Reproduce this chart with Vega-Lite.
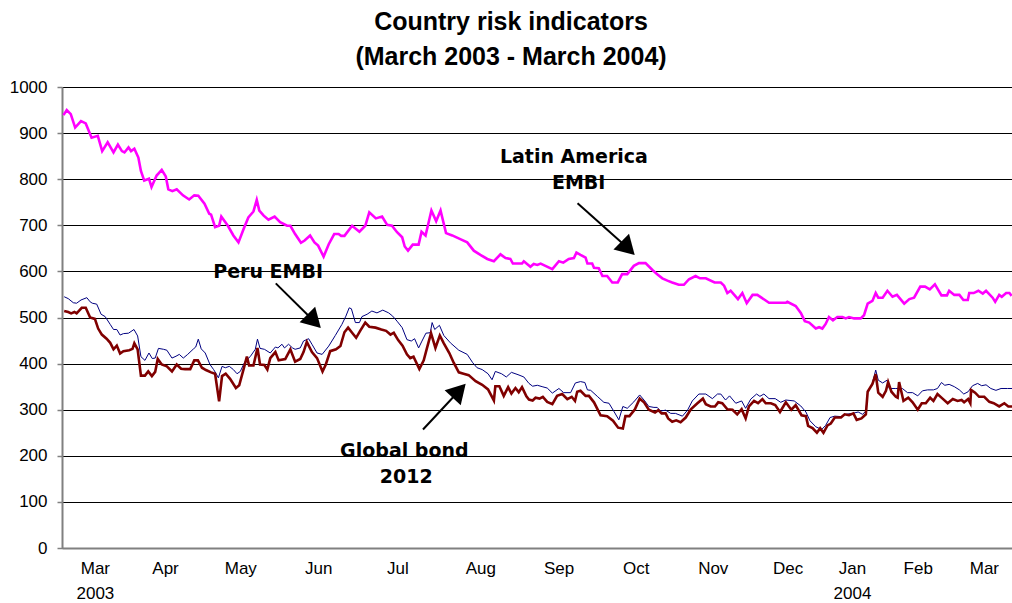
{
"$schema":"https://vega.github.io/schema/vega-lite/v6.json",
"width":950,"height":461,
"autosize":{"type":"none"},
"padding":{"left":62,"top":87,"right":0,"bottom":55},
"background":"white",
"title":{"text":["Country risk indicators","(March 2003 - March 2004)"],"font":"Liberation Sans, Arial, sans-serif","fontSize":25,"fontWeight":"bold","lineHeight":35,"anchor":"middle","dx":-26,"offset":8,"color":"black"},
"config":{"view":{"stroke":null},
"axis":{"labelFont":"Liberation Sans Narrow, Liberation Sans, Arial, sans-serif","labelFontSize":17,"labelColor":"black","title":null,"domainColor":"#808080","domainWidth":2}},
"datasets":{
"latam":[{"day":0.4,"bp":939},{"day":1.3,"bp":950},{"day":2.4,"bp":941},{"day":3.6,"bp":912},{"day":5.2,"bp":926},{"day":6.5,"bp":921},{"day":8.1,"bp":890},{"day":9.8,"bp":894},{"day":11.0,"bp":861},{"day":12.5,"bp":880},{"day":14.1,"bp":858},{"day":15.3,"bp":875},{"day":16.4,"bp":861},{"day":17.1,"bp":858},{"day":18.2,"bp":869},{"day":18.9,"bp":861},{"day":19.8,"bp":866},{"day":20.9,"bp":847},{"day":21.6,"bp":818},{"day":22.5,"bp":797},{"day":23.8,"bp":801},{"day":24.5,"bp":783},{"day":25.9,"bp":808},{"day":27.3,"bp":820},{"day":28.4,"bp":806},{"day":29.1,"bp":778},{"day":30.2,"bp":774},{"day":31.4,"bp":778},{"day":33.1,"bp":765},{"day":34.8,"bp":756},{"day":36.2,"bp":765},{"day":37.3,"bp":764},{"day":39.0,"bp":747},{"day":40.3,"bp":725},{"day":40.8,"bp":723},{"day":41.9,"bp":696},{"day":43.0,"bp":699},{"day":43.6,"bp":719},{"day":45.4,"bp":699},{"day":46.9,"bp":678},{"day":48.3,"bp":663},{"day":49.7,"bp":692},{"day":51.0,"bp":717},{"day":52.4,"bp":730},{"day":53.3,"bp":755},{"day":54.0,"bp":732},{"day":55.2,"bp":721},{"day":56.5,"bp":712},{"day":58.2,"bp":719},{"day":59.7,"bp":707},{"day":61.6,"bp":699},{"day":62.5,"bp":699},{"day":63.8,"bp":681},{"day":65.4,"bp":662},{"day":66.4,"bp":667},{"day":67.9,"bp":678},{"day":69.1,"bp":663},{"day":70.1,"bp":656},{"day":71.6,"bp":632},{"day":73.0,"bp":659},{"day":74.5,"bp":681},{"day":75.7,"bp":681},{"day":76.4,"bp":677},{"day":77.3,"bp":677},{"day":79.4,"bp":699},{"day":81.4,"bp":686},{"day":83.0,"bp":699},{"day":84.1,"bp":728},{"day":85.9,"bp":715},{"day":87.6,"bp":719},{"day":89.0,"bp":701},{"day":90.3,"bp":699},{"day":91.7,"bp":685},{"day":93.1,"bp":674},{"day":93.8,"bp":654},{"day":94.7,"bp":645},{"day":96.0,"bp":658},{"day":97.6,"bp":658},{"day":98.4,"bp":686},{"day":99.5,"bp":678},{"day":101.1,"bp":732},{"day":102.4,"bp":709},{"day":103.6,"bp":732},{"day":105.1,"bp":683},{"day":106.8,"bp":678},{"day":109.0,"bp":670},{"day":110.9,"bp":663},{"day":112.7,"bp":645},{"day":114.5,"bp":636},{"day":116.4,"bp":627},{"day":118.2,"bp":622},{"day":120.0,"bp":637},{"day":121.4,"bp":629},{"day":122.7,"bp":627},{"day":123.4,"bp":617},{"day":125.9,"bp":617},{"day":126.4,"bp":622},{"day":128.2,"bp":610},{"day":129.1,"bp":616},{"day":130.1,"bp":614},{"day":131.0,"bp":617},{"day":132.3,"bp":612},{"day":134.2,"bp":605},{"day":136.0,"bp":622},{"day":137.2,"bp":619},{"day":138.7,"bp":627},{"day":140.1,"bp":629},{"day":140.8,"bp":641},{"day":141.9,"bp":636},{"day":143.3,"bp":630},{"day":143.8,"bp":617},{"day":145.1,"bp":617},{"day":145.6,"bp":608},{"day":146.9,"bp":607},{"day":147.9,"bp":590},{"day":149.2,"bp":590},{"day":150.6,"bp":576},{"day":152.1,"bp":576},{"day":153.3,"bp":594},{"day":154.7,"bp":594},{"day":156.5,"bp":612},{"day":157.9,"bp":618},{"day":159.7,"bp":618},{"day":161.6,"bp":603},{"day":162.9,"bp":594},{"day":164.3,"bp":585},{"day":165.7,"bp":580},{"day":167.0,"bp":576},{"day":168.8,"bp":571},{"day":170.2,"bp":571},{"day":171.6,"bp":583},{"day":173.4,"bp":590},{"day":174.6,"bp":585},{"day":176.2,"bp":585},{"day":178.6,"bp":576},{"day":180.3,"bp":576},{"day":181.2,"bp":569},{"day":182.1,"bp":553},{"day":183.0,"bp":558},{"day":185.0,"bp":540},{"day":186.2,"bp":553},{"day":187.4,"bp":531},{"day":189.0,"bp":549},{"day":190.3,"bp":549},{"day":193.5,"bp":532},{"day":198.1,"bp":532},{"day":198.5,"bp":534},{"day":200.8,"bp":525},{"day":202.2,"bp":510},{"day":203.3,"bp":492},{"day":204.5,"bp":489},{"day":206.3,"bp":476},{"day":207.2,"bp":479},{"day":208.1,"bp":476},{"day":209.0,"bp":486},{"day":209.9,"bp":501},{"day":211.0,"bp":494},{"day":212.2,"bp":501},{"day":213.6,"bp":501},{"day":214.5,"bp":498},{"day":215.4,"bp":501},{"day":216.8,"bp":498},{"day":218.6,"bp":498},{"day":219.5,"bp":505},{"day":220.5,"bp":530},{"day":221.8,"bp":536},{"day":222.7,"bp":553},{"day":223.4,"bp":543},{"day":224.6,"bp":543},{"day":225.9,"bp":558},{"day":227.3,"bp":545},{"day":228.5,"bp":549},{"day":230.5,"bp":530},{"day":231.9,"bp":540},{"day":233.2,"bp":543},{"day":234.9,"bp":567},{"day":236.2,"bp":567},{"day":237.5,"bp":561},{"day":238.9,"bp":572},{"day":240.7,"bp":548},{"day":242.2,"bp":548},{"day":242.8,"bp":558},{"day":244.2,"bp":549},{"day":245.6,"bp":549},{"day":246.7,"bp":538},{"day":247.9,"bp":538},{"day":248.3,"bp":553},{"day":249.5,"bp":553},{"day":250.8,"bp":558},{"day":252.0,"bp":552},{"day":252.9,"bp":558},{"day":254.7,"bp":543},{"day":255.4,"bp":534},{"day":256.5,"bp":549},{"day":257.2,"bp":545},{"day":258.4,"bp":553},{"day":259.3,"bp":553},{"day":259.9,"bp":547}],
"peru":[{"day":0.6,"bp":545},{"day":1.7,"bp":541},{"day":3.1,"bp":532},{"day":4.0,"bp":531},{"day":5.2,"bp":538},{"day":6.8,"bp":543},{"day":7.7,"bp":534},{"day":8.3,"bp":531},{"day":9.5,"bp":529},{"day":10.7,"bp":507},{"day":11.8,"bp":502},{"day":13.2,"bp":485},{"day":14.1,"bp":474},{"day":15.0,"bp":474},{"day":15.9,"bp":462},{"day":16.8,"bp":465},{"day":18.2,"bp":466},{"day":19.7,"bp":474},{"day":20.7,"bp":460},{"day":21.6,"bp":415},{"day":22.7,"bp":407},{"day":23.8,"bp":423},{"day":24.7,"bp":411},{"day":25.5,"bp":412},{"day":26.4,"bp":433},{"day":27.8,"bp":431},{"day":28.7,"bp":429},{"day":30.1,"bp":412},{"day":31.2,"bp":416},{"day":32.1,"bp":420},{"day":33.2,"bp":412},{"day":34.4,"bp":420},{"day":36.0,"bp":432},{"day":36.6,"bp":436},{"day":37.3,"bp":453},{"day":38.1,"bp":432},{"day":39.2,"bp":423},{"day":40.5,"bp":398},{"day":41.5,"bp":387},{"day":42.2,"bp":378},{"day":42.8,"bp":369},{"day":43.8,"bp":394},{"day":44.7,"bp":391},{"day":45.8,"bp":394},{"day":46.9,"bp":387},{"day":47.9,"bp":378},{"day":48.8,"bp":383},{"day":50.1,"bp":405},{"day":51.5,"bp":415},{"day":52.9,"bp":431},{"day":53.5,"bp":453},{"day":54.2,"bp":433},{"day":55.4,"bp":431},{"day":57.0,"bp":423},{"day":58.4,"bp":436},{"day":59.1,"bp":434},{"day":60.2,"bp":442},{"day":60.9,"bp":434},{"day":62.0,"bp":442},{"day":63.1,"bp":434},{"day":63.8,"bp":431},{"day":65.2,"bp":434},{"day":66.1,"bp":449},{"day":67.5,"bp":454},{"day":68.4,"bp":442},{"day":69.8,"bp":423},{"day":71.2,"bp":420},{"day":73.0,"bp":438},{"day":74.8,"bp":461},{"day":76.6,"bp":485},{"day":77.7,"bp":503},{"day":78.6,"bp":521},{"day":79.2,"bp":519},{"day":80.3,"bp":489},{"day":81.4,"bp":489},{"day":82.1,"bp":502},{"day":83.5,"bp":507},{"day":84.8,"bp":514},{"day":86.2,"bp":510},{"day":87.8,"bp":516},{"day":89.4,"bp":510},{"day":90.5,"bp":503},{"day":91.7,"bp":492},{"day":93.1,"bp":478},{"day":94.4,"bp":452},{"day":95.6,"bp":449},{"day":96.5,"bp":454},{"day":97.6,"bp":434},{"day":98.4,"bp":447},{"day":99.6,"bp":466},{"day":100.8,"bp":467},{"day":101.3,"bp":489},{"day":102.0,"bp":474},{"day":103.3,"bp":483},{"day":104.5,"bp":461},{"day":106.3,"bp":445},{"day":108.6,"bp":429},{"day":110.9,"bp":420},{"day":112.4,"bp":402},{"day":113.6,"bp":391},{"day":115.0,"bp":387},{"day":116.6,"bp":378},{"day":117.7,"bp":365},{"day":118.6,"bp":383},{"day":120.3,"bp":378},{"day":121.6,"bp":371},{"day":123.0,"bp":381},{"day":124.8,"bp":376},{"day":126.4,"bp":371},{"day":127.8,"bp":357},{"day":128.8,"bp":351},{"day":130.1,"bp":353},{"day":131.4,"bp":350},{"day":132.8,"bp":347},{"day":134.2,"bp":336},{"day":136.0,"bp":346},{"day":137.3,"bp":337},{"day":139.2,"bp":337},{"day":140.5,"bp":358},{"day":141.9,"bp":361},{"day":143.1,"bp":359},{"day":143.8,"bp":343},{"day":144.7,"bp":342},{"day":146.5,"bp":329},{"day":148.3,"bp":316},{"day":149.7,"bp":314},{"day":151.0,"bp":297},{"day":152.4,"bp":278},{"day":153.5,"bp":307},{"day":154.7,"bp":303},{"day":156.5,"bp":317},{"day":158.1,"bp":332},{"day":159.5,"bp":319},{"day":160.6,"bp":307},{"day":162.0,"bp":305},{"day":162.9,"bp":305},{"day":163.8,"bp":297},{"day":165.2,"bp":299},{"day":166.6,"bp":292},{"day":167.9,"bp":292},{"day":169.8,"bp":286},{"day":171.2,"bp":299},{"day":172.5,"bp":319},{"day":174.3,"bp":334},{"day":176.2,"bp":334},{"day":178.0,"bp":324},{"day":179.4,"bp":334},{"day":180.3,"bp":334},{"day":181.6,"bp":321},{"day":182.7,"bp":330},{"day":184.4,"bp":314},{"day":186.0,"bp":319},{"day":187.1,"bp":303},{"day":188.5,"bp":323},{"day":190.1,"bp":334},{"day":191.0,"bp":329},{"day":192.1,"bp":334},{"day":193.5,"bp":324},{"day":195.2,"bp":324},{"day":196.7,"bp":316},{"day":198.1,"bp":321},{"day":200.4,"bp":319},{"day":202.2,"bp":308},{"day":203.6,"bp":295},{"day":204.7,"bp":276},{"day":206.3,"bp":263},{"day":207.9,"bp":257},{"day":209.0,"bp":266},{"day":210.2,"bp":283},{"day":211.5,"bp":286},{"day":213.2,"bp":285},{"day":214.5,"bp":290},{"day":216.4,"bp":292},{"day":217.9,"bp":295},{"day":219.1,"bp":290},{"day":220.0,"bp":297},{"day":220.5,"bp":339},{"day":221.6,"bp":352},{"day":222.7,"bp":386},{"day":223.4,"bp":364},{"day":224.6,"bp":358},{"day":225.8,"bp":364},{"day":226.4,"bp":346},{"day":228.2,"bp":346},{"day":230.0,"bp":346},{"day":231.4,"bp":337},{"day":232.8,"bp":337},{"day":234.2,"bp":330},{"day":235.5,"bp":341},{"day":236.9,"bp":343},{"day":238.5,"bp":343},{"day":239.6,"bp":346},{"day":240.7,"bp":359},{"day":241.6,"bp":353},{"day":242.8,"bp":355},{"day":244.2,"bp":350},{"day":245.6,"bp":343},{"day":246.8,"bp":334},{"day":248.0,"bp":339},{"day":249.2,"bp":352},{"day":250.6,"bp":357},{"day":251.7,"bp":352},{"day":252.9,"bp":354},{"day":254.2,"bp":346},{"day":255.6,"bp":342},{"day":257.0,"bp":346},{"day":258.8,"bp":346},{"day":260.0,"bp":346}],
"global":[{"day":0.6,"bp":514},{"day":1.7,"bp":512},{"day":2.5,"bp":509},{"day":3.4,"bp":512},{"day":4.0,"bp":509},{"day":5.4,"bp":521},{"day":6.5,"bp":521},{"day":7.7,"bp":500},{"day":9.0,"bp":497},{"day":9.9,"bp":476},{"day":10.9,"bp":463},{"day":12.2,"bp":454},{"day":13.2,"bp":445},{"day":14.1,"bp":431},{"day":15.0,"bp":439},{"day":15.9,"bp":422},{"day":16.8,"bp":427},{"day":18.4,"bp":429},{"day":19.3,"bp":432},{"day":19.8,"bp":444},{"day":20.7,"bp":431},{"day":21.6,"bp":374},{"day":22.7,"bp":374},{"day":23.6,"bp":383},{"day":24.6,"bp":373},{"day":25.5,"bp":382},{"day":26.2,"bp":410},{"day":27.3,"bp":398},{"day":28.7,"bp":394},{"day":30.1,"bp":383},{"day":31.4,"bp":398},{"day":32.6,"bp":389},{"day":33.7,"bp":388},{"day":35.1,"bp":388},{"day":36.2,"bp":407},{"day":37.2,"bp":407},{"day":38.3,"bp":391},{"day":39.4,"bp":386},{"day":40.8,"bp":381},{"day":41.9,"bp":378},{"day":43.0,"bp":318},{"day":43.8,"bp":373},{"day":44.8,"bp":378},{"day":46.0,"bp":367},{"day":47.6,"bp":347},{"day":48.5,"bp":353},{"day":49.7,"bp":388},{"day":50.6,"bp":415},{"day":51.2,"bp":396},{"day":52.4,"bp":396},{"day":53.5,"bp":434},{"day":54.2,"bp":398},{"day":55.4,"bp":397},{"day":56.2,"bp":387},{"day":57.0,"bp":412},{"day":58.4,"bp":425},{"day":59.3,"bp":407},{"day":61.1,"bp":410},{"day":62.5,"bp":431},{"day":63.8,"bp":404},{"day":65.2,"bp":410},{"day":66.1,"bp":425},{"day":67.0,"bp":447},{"day":68.4,"bp":425},{"day":69.8,"bp":412},{"day":71.3,"bp":383},{"day":72.2,"bp":398},{"day":73.4,"bp":427},{"day":75.0,"bp":431},{"day":76.2,"bp":438},{"day":77.3,"bp":468},{"day":78.3,"bp":478},{"day":79.4,"bp":467},{"day":80.5,"bp":456},{"day":81.6,"bp":471},{"day":83.0,"bp":489},{"day":84.1,"bp":480},{"day":85.8,"bp":478},{"day":87.4,"bp":474},{"day":88.7,"bp":471},{"day":89.9,"bp":463},{"day":90.8,"bp":467},{"day":92.0,"bp":451},{"day":93.2,"bp":439},{"day":94.4,"bp":420},{"day":95.3,"bp":412},{"day":96.2,"bp":415},{"day":97.8,"bp":388},{"day":99.0,"bp":407},{"day":99.9,"bp":434},{"day":101.0,"bp":466},{"day":102.2,"bp":434},{"day":103.4,"bp":461},{"day":104.5,"bp":444},{"day":106.0,"bp":423},{"day":107.2,"bp":402},{"day":108.6,"bp":381},{"day":109.9,"bp":378},{"day":111.3,"bp":375},{"day":113.2,"bp":362},{"day":115.0,"bp":354},{"day":116.6,"bp":344},{"day":118.2,"bp":320},{"day":118.6,"bp":351},{"day":119.7,"bp":351},{"day":120.9,"bp":330},{"day":122.1,"bp":349},{"day":123.0,"bp":335},{"day":124.1,"bp":347},{"day":125.0,"bp":338},{"day":125.9,"bp":349},{"day":127.1,"bp":329},{"day":127.8,"bp":322},{"day":128.8,"bp":320},{"day":129.6,"bp":326},{"day":130.7,"bp":324},{"day":131.6,"bp":328},{"day":132.8,"bp":317},{"day":134.2,"bp":312},{"day":135.5,"bp":330},{"day":136.9,"bp":334},{"day":138.3,"bp":323},{"day":139.5,"bp":328},{"day":140.4,"bp":319},{"day":141.0,"bp":339},{"day":141.9,"bp":341},{"day":143.3,"bp":330},{"day":144.2,"bp":330},{"day":145.6,"bp":316},{"day":147.4,"bp":288},{"day":149.2,"bp":286},{"day":150.8,"bp":276},{"day":152.2,"bp":261},{"day":153.5,"bp":259},{"day":154.2,"bp":286},{"day":155.3,"bp":286},{"day":156.8,"bp":301},{"day":158.1,"bp":324},{"day":159.3,"bp":316},{"day":160.6,"bp":300},{"day":162.3,"bp":294},{"day":163.2,"bp":299},{"day":164.1,"bp":292},{"day":165.2,"bp":292},{"day":165.9,"bp":281},{"day":167.0,"bp":274},{"day":168.1,"bp":277},{"day":169.3,"bp":273},{"day":170.7,"bp":283},{"day":172.1,"bp":301},{"day":173.9,"bp":314},{"day":175.4,"bp":324},{"day":176.2,"bp":312},{"day":177.5,"bp":307},{"day":178.7,"bp":307},{"day":179.6,"bp":316},{"day":180.7,"bp":314},{"day":182.1,"bp":301},{"day":183.5,"bp":300},{"day":184.8,"bp":290},{"day":186.0,"bp":301},{"day":187.1,"bp":281},{"day":188.0,"bp":307},{"day":189.4,"bp":319},{"day":190.5,"bp":314},{"day":191.7,"bp":323},{"day":192.6,"bp":314},{"day":194.0,"bp":314},{"day":195.2,"bp":310},{"day":196.5,"bp":295},{"day":198.1,"bp":316},{"day":199.6,"bp":300},{"day":200.8,"bp":310},{"day":202.4,"bp":288},{"day":203.6,"bp":286},{"day":204.2,"bp":265},{"day":205.4,"bp":260},{"day":206.6,"bp":250},{"day":207.5,"bp":260},{"day":208.4,"bp":250},{"day":209.5,"bp":266},{"day":210.4,"bp":270},{"day":211.5,"bp":283},{"day":213.2,"bp":283},{"day":214.2,"bp":290},{"day":215.4,"bp":288},{"day":216.6,"bp":292},{"day":217.5,"bp":278},{"day":218.8,"bp":281},{"day":220.0,"bp":290},{"day":220.5,"bp":339},{"day":221.8,"bp":356},{"day":222.7,"bp":377},{"day":223.4,"bp":337},{"day":224.6,"bp":328},{"day":225.5,"bp":341},{"day":226.1,"bp":360},{"day":227.0,"bp":339},{"day":228.2,"bp":328},{"day":228.7,"bp":326},{"day":229.1,"bp":360},{"day":230.3,"bp":319},{"day":231.6,"bp":326},{"day":232.8,"bp":316},{"day":234.2,"bp":300},{"day":235.3,"bp":314},{"day":236.4,"bp":314},{"day":237.6,"bp":326},{"day":238.5,"bp":319},{"day":239.6,"bp":334},{"day":241.0,"bp":324},{"day":242.4,"bp":314},{"day":243.8,"bp":323},{"day":245.1,"bp":319},{"day":246.2,"bp":321},{"day":246.9,"bp":316},{"day":248.0,"bp":323},{"day":248.6,"bp":314},{"day":248.8,"bp":343},{"day":249.9,"bp":337},{"day":251.0,"bp":328},{"day":252.4,"bp":328},{"day":253.8,"bp":317},{"day":255.0,"bp":314},{"day":256.5,"bp":307},{"day":257.9,"bp":314},{"day":259.0,"bp":307},{"day":260.0,"bp":307}],
"notes":[{"label":"Latin America","day":140.1,"bp":848},{"label":"EMBI","day":141.4,"bp":792},{"label":"Peru EMBI","day":56.4,"bp":599},{"label":"Global bond","day":93.7,"bp":210},{"label":"2012","day":94.2,"bp":154}],
"arrows":[{"target":"Latin America EMBI","day":141.1,"bp":748,"day2":154.9,"bp2":650},{"target":"Peru EMBI","day":58.5,"bp":574,"day2":69.0,"bp2":492},{"target":"Global bond 2012","day":98.8,"bp":257,"day2":108.7,"bp2":341}]
},
"layer":[
{"data":{"name":"peru"},"mark":{"type":"line","color":"#000080","strokeWidth":1},
"encoding":{"x":{"field":"day","type":"quantitative","scale":{"domain":[0,260],"nice":false,"zero":false},
"axis":{"values":[9,28.2,48.8,70.1,91.8,114.5,135.9,157,178.1,198.6,216.2,234.2,252.3],"labelExpr":"datum.value < 10 ? ['Mar','2003'] : datum.value < 30 ? 'Apr' : datum.value < 50 ? 'May' : datum.value < 80 ? 'Jun' : datum.value < 100 ? 'Jul' : datum.value < 120 ? 'Aug' : datum.value < 140 ? 'Sep' : datum.value < 160 ? 'Oct' : datum.value < 185 ? 'Nov' : datum.value < 205 ? 'Dec' : datum.value < 225 ? ['Jan','2004'] : datum.value < 240 ? 'Feb' : 'Mar'","ticks":false,"grid":false,"labelPadding":12,"labelLineHeight":25,"labelFlush":false,"labelOverlap":false,"labelBound":false,"labelAlign":"center","labelBaseline":"top"}},
"y":{"field":"bp","type":"quantitative","scale":{"domain":[0,1000],"nice":false},
"axis":{"values":[0,100,200,300,400,500,600,700,800,900,1000],"format":"d","grid":true,"gridColor":"black","gridWidth":1,"gridOpacity":1,"tickColor":"#808080","tickSize":5,"tickWidth":1.5,"labelPadding":10,"labelOverlap":false}}}},
{"data":{"name":"global"},"mark":{"type":"line","color":"#800000","strokeWidth":2.6},
"encoding":{"x":{"field":"day","type":"quantitative"},"y":{"field":"bp","type":"quantitative"}}},
{"data":{"name":"latam"},"mark":{"type":"line","color":"#FF00FF","strokeWidth":2.6},
"encoding":{"x":{"field":"day","type":"quantitative"},"y":{"field":"bp","type":"quantitative"}}},
{"data":{"name":"arrows"},"mark":{"type":"rule","color":"black","strokeWidth":2},
"encoding":{"x":{"field":"day","type":"quantitative"},"y":{"field":"bp","type":"quantitative"},"x2":{"field":"day2"},"y2":{"field":"bp2"}}},
{"data":{"name":"arrows"},"transform":[{"filter":"datum.target != 'Global bond 2012'"}],"mark":{"type":"point","shape":"triangle-up","filled":true,"color":"black","opacity":1,"size":484,"angle":135},
"encoding":{"x":{"field":"day2","type":"quantitative"},"y":{"field":"bp2","type":"quantitative"}}},
{"data":{"name":"arrows"},"transform":[{"filter":"datum.target == 'Global bond 2012'"}],"mark":{"type":"point","shape":"triangle-up","filled":true,"color":"black","opacity":1,"size":484,"angle":43},
"encoding":{"x":{"field":"day2","type":"quantitative"},"y":{"field":"bp2","type":"quantitative"}}},
{"data":{"name":"notes"},"mark":{"type":"text","font":"DejaVu Sans","fontWeight":"bold","fontSize":19,"color":"black","align":"center","baseline":"middle"},
"encoding":{"x":{"field":"day","type":"quantitative"},"y":{"field":"bp","type":"quantitative"},"text":{"field":"label"}}}
]
}
